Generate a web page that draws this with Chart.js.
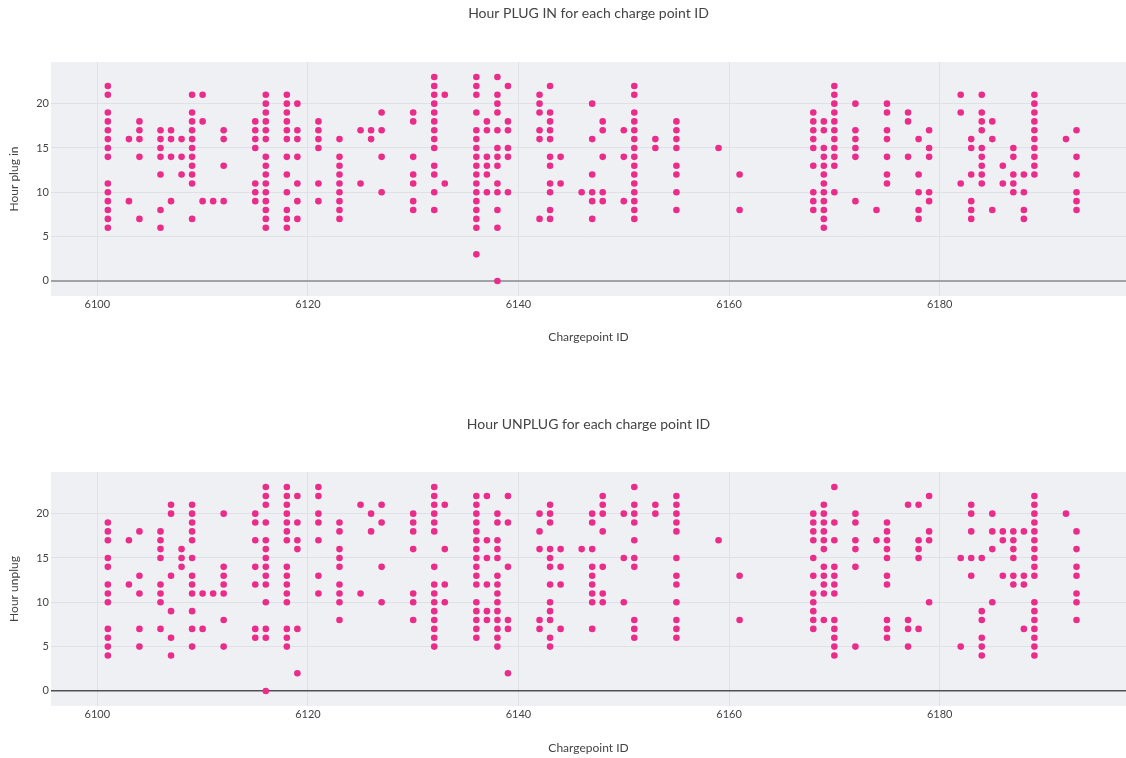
<!DOCTYPE html>
<html>
<head>
<meta charset="utf-8">
<script src="https://cdn.jsdelivr.net/npm/chart.js@4/dist/chart.umd.min.js"></script>
<style>
  html, body { margin: 0; padding: 0; background: #ffffff; }
  .panel { position: absolute; left: 0; width: 1126px; height: 379px; }
</style>
</head>
<body>
<div class="panel" style="top:0"><canvas id="plugChart" width="1126" height="379"></canvas></div>
<div class="panel" style="top:379px"><canvas id="unplugChart" width="1126" height="379"></canvas></div>
<script>
// Charge point IDs (x) and the hours observed at each one (y)
const chargepointIds = [
  6101, 6103, 6104, 6106, 6107, 6108, 6109, 6110, 6111, 6112, 6115, 6116, 6118, 6119,
  6121, 6123, 6125, 6126, 6127, 6130, 6132, 6133, 6136, 6137, 6138, 6139,
  6142, 6143, 6144, 6146, 6147, 6148, 6150, 6151, 6153, 6155, 6159, 6161,
  6168, 6169, 6170, 6172, 6174, 6175, 6177, 6178, 6179,
  6182, 6183, 6184, 6185, 6186, 6187, 6188, 6189, 6192, 6193
];

const plugInHours = [
  [22,21,19,18,17,16,15,14,11,10,9,8,7,6], [16,9], [18,17,16,14,7], [17,16,15,14,12,8,6],
  [17,16,14,9], [16,14,12], [21,19,18,17,16,15,14,13,12,11,7], [21,18,9], [9], [17,16,13,9],
  [18,17,16,15,11,10,9], [21,20,19,18,17,16,14,13,12,11,10,9,8,7,6],
  [21,20,19,18,17,16,14,12,10,8,7,6], [20,17,16,14,11,9,7],
  [18,17,16,15,11,9], [16,14,13,12,11,10,9,8,7], [17,11], [17,16], [19,17,14,10],
  [19,18,14,12,11,9,8], [23,22,21,20,19,18,17,16,15,13,12,10,8], [21,11],
  [23,22,21,19,17,16,15,14,13,12,11,10,9,8,7,6,3], [18,17,14,13,12,10],
  [23,21,20,19,17,15,14,13,11,10,8,6,0], [22,18,17,15,14,10],
  [21,20,19,17,16,7], [22,19,18,17,16,14,13,11,10,8,7], [14,11], [10], [20,16,12,10,9,7],
  [18,17,14,10,9], [17,14,9], [22,21,19,18,17,16,15,14,13,12,11,10,9,8,7], [16,15],
  [18,17,16,15,13,12,10,8], [15], [12,8],
  [19,18,17,16,15,13,10,9,8], [18,17,15,14,13,12,11,10,9,8,7,6],
  [22,21,20,19,18,17,16,15,14,13,10], [20,17,16,15,14,9], [8], [20,19,17,16,14,12,11],
  [19,18,14], [16,12,10,8,7], [17,15,14,10,9],
  [21,19,11], [16,15,12,9,8,7], [21,19,18,17,15,14,13,12,11], [18,16,8], [13,11],
  [15,14,12,11,10], [12,10,8,7], [21,20,19,18,17,16,15,14,13,12], [16], [17,14,12,10,9,8]
];

const unplugHours = [
  [19,18,17,15,14,12,11,10,7,6,5,4], [17,12], [18,13,11,7,5], [18,17,16,15,12,11,10,7],
  [21,20,13,9,6,4], [16,15,14], [21,20,19,18,17,15,13,12,11,9,7,5], [11,7], [11],
  [20,14,13,12,11,8,5], [20,19,17,14,12,7,6], [23,22,21,19,17,16,15,14,13,12,10,7,6,0],
  [23,22,21,20,19,18,17,14,13,12,11,10,7,6,5], [22,19,17,16,7,2],
  [23,22,20,19,17,13,11], [19,18,16,15,14,12,11,10,8], [21,11], [20,18], [21,19,14,10],
  [20,19,18,16,11,10,8], [23,22,21,20,19,18,14,12,11,10,9,8,7,6,5], [21,16,12,10],
  [22,21,20,19,18,17,16,15,14,13,12,10,9,8,7,6], [22,17,15,12,9,8],
  [20,19,17,16,15,13,12,11,10,9,8,7,6,5], [22,19,14,8,7,2],
  [20,18,16,8,7], [21,20,19,16,15,14,12,10,9,8,6,5], [16,14,12,7], [16],
  [20,19,16,14,13,12,11,10,7], [22,21,20,18,14,11,10], [20,15,10],
  [23,21,20,19,17,15,14,8,7,6], [21,20], [22,21,20,19,18,15,13,12,10,8,7,6], [17], [13,8],
  [20,19,18,17,15,13,11,10,9,8,7], [21,20,19,18,17,16,14,13,12,11,8],
  [23,19,17,14,13,12,11,8,7,6,5,4], [20,19,17,16,14,5], [17], [19,18,17,16,15,13,12,8,7,6],
  [21,8,7,5], [21,17,16,15,7], [22,18,17,10],
  [15,5], [21,20,18,15,13], [15,9,8,6,5,4], [20,18,16,10], [18,17,13], [18,17,16,15,13,12],
  [18,13,12,7], [22,21,20,19,18,17,16,15,14,13,10,9,8,7,6,5,4], [20], [18,16,14,13,11,10,8]
];

const xTickValues = [6100, 6120, 6140, 6160, 6180];
const yTickValues = [0, 5, 10, 15, 20];

const FONT = 'Lato, "Open Sans", sans-serif';
const TEXT_COLOR = '#444444';
const PLOT_BG = '#eff0f4';
const GRID_COLOR = '#e0e1e6';
const MARKER_COLOR = '#ea2c8a';

function toPoints(hoursById) {
  const pts = [];
  chargepointIds.forEach((id, i) => {
    hoursById[i].forEach(h => pts.push({ x: id, y: h }));
  });
  return pts;
}

// Plot background and a title centred over the plotting area
const plotFrame = {
  id: 'plotFrame',
  beforeDraw(chart, args, opts) {
    const a = chart.chartArea;
    const ctx = chart.ctx;
    ctx.save();
    ctx.fillStyle = PLOT_BG;
    ctx.fillRect(a.left, a.top, a.right - a.left, a.bottom - a.top);
    ctx.restore();
  },
  afterDraw(chart, args, opts) {
    const a = chart.chartArea;
    const ctx = chart.ctx;
    ctx.save();
    ctx.fillStyle = TEXT_COLOR;
    ctx.font = '14px ' + FONT;
    ctx.textAlign = 'center';
    ctx.textBaseline = 'middle';
    ctx.fillText(opts.text, (a.left + a.right) / 2, opts.y);
    ctx.restore();
  }
};

function buildChart(canvasId, cfg) {
  return new Chart(document.getElementById(canvasId), {
    type: 'scatter',
    data: {
      datasets: [{
        data: toPoints(cfg.hours),
        backgroundColor: MARKER_COLOR,
        borderWidth: 0,
        pointRadius: 3.3,
        pointHoverRadius: 3.3
      }]
    },
    plugins: [plotFrame],
    options: {
      responsive: false,
      animation: false,
      devicePixelRatio: 1,
      layout: { autoPadding: false, padding: { top: cfg.padTop, bottom: cfg.padBottom, left: 0, right: 0 } },
      plugins: {
        legend: { display: false },
        tooltip: { enabled: false },
        plotFrame: { text: cfg.title, y: cfg.titleY }
      },
      scales: {
        x: {
          type: 'linear',
          min: 6095.6,
          max: 6197.7,
          afterBuildTicks: s => { s.ticks = xTickValues.map(v => ({ value: v })); },
          afterFit: s => { s.height = 50; },
          border: { display: false },
          grid: { color: GRID_COLOR, lineWidth: 1, drawTicks: false },
          ticks: {
            padding: 2, color: TEXT_COLOR, autoSkip: false, maxRotation: 0,
            font: { family: FONT, size: 11 },
            callback: v => String(v)
          },
          title: {
            display: true, text: 'Chargepoint ID', color: TEXT_COLOR,
            font: { family: FONT, size: 12 },
            padding: { top: 0, bottom: cfg.xTitlePad }
          }
        },
        y: {
          type: 'linear',
          min: -1.7,
          max: 24.7,
          afterBuildTicks: s => { s.ticks = yTickValues.map(v => ({ value: v })); },
          afterFit: s => { s.width = 51; },
          border: { display: false },
          grid: {
            drawTicks: false,
            color: c => (c.tick && c.tick.value === 0) ? cfg.zeroColor : GRID_COLOR,
            lineWidth: c => (c.tick && c.tick.value === 0) ? cfg.zeroWidth : 1
          },
          ticks: {
            padding: 2, color: TEXT_COLOR,
            font: { family: FONT, size: 11 },
            callback: v => String(v)
          },
          title: {
            display: true, text: cfg.yTitle, color: TEXT_COLOR,
            font: { family: FONT, size: 12 },
            padding: { top: 7, bottom: 0 }
          }
        }
      }
    }
  });
}

function drawAll() {
  buildChart('plugChart', {
    hours: plugInHours,
    title: 'Hour PLUG IN for each charge point ID',
    titleY: 13,
    yTitle: 'Hour plug in',
    padTop: 62,
    padBottom: 33,
    xTitlePad: 2,
    zeroColor: '#a2a2a6',
    zeroWidth: 2
  });
  buildChart('unplugChart', {
    hours: unplugHours,
    title: 'Hour UNPLUG for each charge point ID',
    titleY: 45,
    yTitle: 'Hour unplug',
    padTop: 93,
    padBottom: 2,
    xTitlePad: 1,
    zeroColor: '#505050',
    zeroWidth: 1.5
  });
}

if (document.fonts && document.fonts.load) {
  Promise.all([document.fonts.load('11px Lato'), document.fonts.load('14px Lato')])
    .then(drawAll, drawAll);
} else {
  drawAll();
}
</script>
</body>
</html>
